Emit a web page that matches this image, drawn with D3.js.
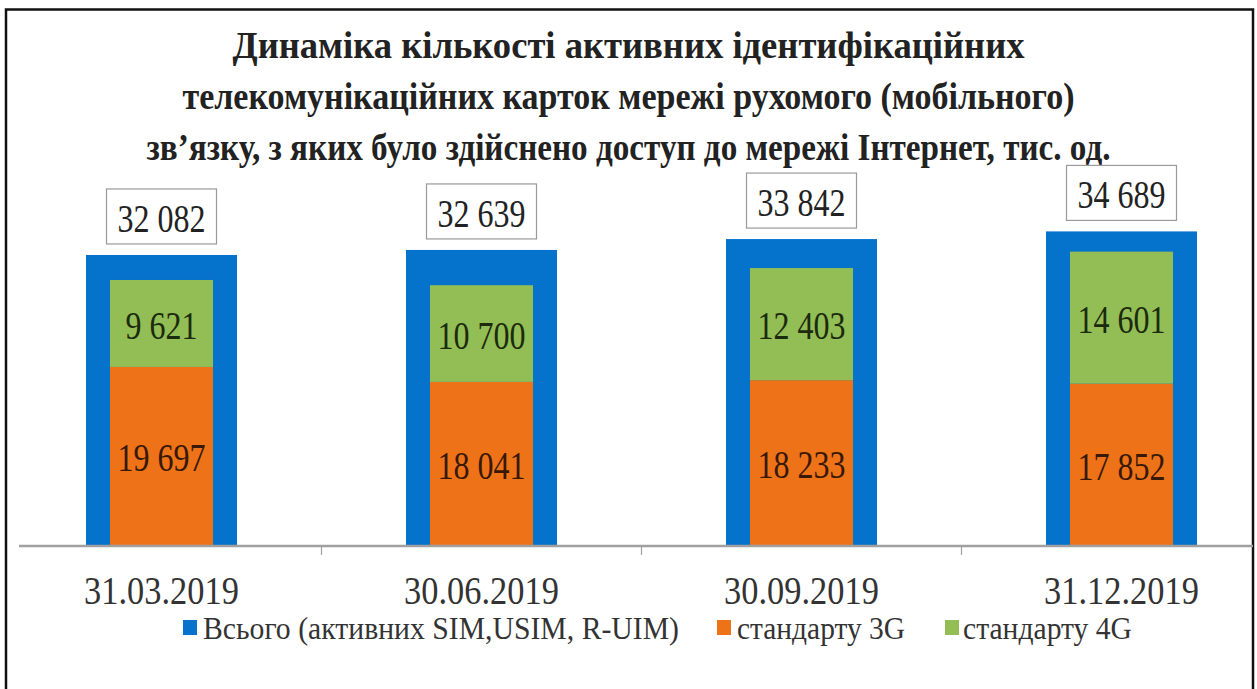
<!DOCTYPE html>
<html>
<head>
<meta charset="utf-8">
<script src="https://cdn.jsdelivr.net/npm/d3@7"></script>
<style>
  html, body { margin: 0; padding: 0; background: #fff; }
  svg { display: block; }
  text { font-family: "Liberation Serif", "Times New Roman", serif; }
</style>
</head>
<body>
<svg id="chart" width="1257" height="689"></svg>
<script>
// Quarter-end dates
const categories = ["31.03.2019", "30.06.2019", "30.09.2019", "31.12.2019"];
// Active SIM/USIM/R-UIM cards with Internet access, thousand units
const totalValues = [32082, 32639, 33842, 34689];
const g3Values = [19697, 18041, 18233, 17852];
const g4Values = [9621, 10700, 12403, 14601];

const titleLines = [
  "Динаміка кількості активних ідентифікаційних",
  "телекомунікаційних карток мережі рухомого (мобільного)",
  "зв’язку, з яких було здійснено доступ до мережі Інтернет, тис. од."
];
const legendLabels = ["Всього (активних SIM,USIM, R-UIM)", "стандарту 3G", "стандарту 4G"];

const colors = { total: "#0572CC", g3: "#EE7318", g4: "#92BE55" };

const svg = d3.select("#chart");
const W = 1257, H = 689;

// Frame around the whole figure
svg.append("rect")
  .attr("x", 6).attr("y", 9.5)
  .attr("width", 1247).attr("height", 700)
  .attr("fill", "none").attr("stroke", "#111").attr("stroke-width", 2.5);

// Title
const titleBase = [58, 109, 160];
const titleWidth = [792, 892, 964];
svg.append("g").selectAll("text")
  .data(titleLines)
  .join("text")
  .attr("x", W / 2)
  .attr("y", (d, i) => titleBase[i])
  .attr("text-anchor", "middle")
  .attr("font-size", 38)
  .attr("font-weight", "bold")
  .attr("fill", "#222")
  .attr("textLength", (d, i) => titleWidth[i])
  .attr("lengthAdjust", "spacingAndGlyphs")
  .text(d => d);

// Scales
const x = d3.scaleBand().domain(categories).range([1.5, 1281.5]).padding(0);
const y = d3.scaleLinear().domain([0, 40000]).range([545, 183.4]);

const fmt = d3.formatLocale({ decimal: ",", thousands: " ", grouping: [3], currency: ["", ""] }).format(",d");

const outerW = x.bandwidth() * 0.472;
const innerW = x.bandwidth() * 0.322;
const cx = d => x(d) + x.bandwidth() / 2;

const rows = categories.map((c, i) => ({ c, total: totalValues[i], g3: g3Values[i], g4: g4Values[i] }));

const plot = svg.append("g");

// Total bars (wide, behind)
plot.selectAll("rect.total")
  .data(rows)
  .join("rect")
  .attr("class", "total")
  .attr("x", d => cx(d.c) - outerW / 2)
  .attr("width", outerW)
  .attr("y", d => y(d.total))
  .attr("height", d => y(0) - y(d.total))
  .attr("fill", colors.total);

// 3G segment
plot.selectAll("rect.g3")
  .data(rows)
  .join("rect")
  .attr("class", "g3")
  .attr("x", d => cx(d.c) - innerW / 2)
  .attr("width", innerW)
  .attr("y", d => y(d.g3))
  .attr("height", d => y(0) - y(d.g3))
  .attr("fill", colors.g3);

// 4G segment stacked on 3G
plot.selectAll("rect.g4")
  .data(rows)
  .join("rect")
  .attr("class", "g4")
  .attr("x", d => cx(d.c) - innerW / 2)
  .attr("width", innerW)
  .attr("y", d => y(d.g3 + d.g4))
  .attr("height", d => y(d.g3) - y(d.g3 + d.g4))
  .attr("fill", colors.g4);

// Condensed number label helper
function numLabel(sel, xf, yf, fill) {
  sel.append("text")
    .attr("transform", d => `translate(${xf(d)},${yf(d)}) scale(0.8,1)`)
    .attr("text-anchor", "middle")
    .attr("dominant-baseline", "central")
    .attr("font-size", 40)
    .attr("fill", fill);
}

// Segment value labels
const g3Lab = plot.selectAll("g.g3lab").data(rows).join("g").attr("class", "g3lab");
numLabel(g3Lab, d => cx(d.c), d => (y(0) + y(d.g3)) / 2 + 2, "#3a1806");
g3Lab.select("text").text(d => fmt(d.g3));

const g4Lab = plot.selectAll("g.g4lab").data(rows).join("g").attr("class", "g4lab");
numLabel(g4Lab, d => cx(d.c), d => (y(d.g3) + y(d.g3 + d.g4)) / 2 + 2, "#1c2a0e");
g4Lab.select("text").text(d => fmt(d.g4));

// Total value callouts in boxes
const boxW = 110, boxH = 55;
const tot = plot.selectAll("g.totlab").data(rows).join("g").attr("class", "totlab");
tot.append("rect")
  .attr("x", d => cx(d.c) - boxW / 2)
  .attr("y", d => y(d.total) - 11 - boxH)
  .attr("width", boxW).attr("height", boxH)
  .attr("fill", "#fff").attr("stroke", "#9a9a9a").attr("stroke-width", 1.2);
numLabel(tot, d => cx(d.c), d => y(d.total) - 11 - boxH / 2 + 2, "#222");
tot.select("text").text(d => fmt(d.total));

// Category axis
const axisG = svg.append("g");
axisG.append("line")
  .attr("x1", 19).attr("x2", 1253)
  .attr("y1", y(0) + 1).attr("y2", y(0) + 1)
  .attr("stroke", "#a0a0a0").attr("stroke-width", 2.5);
axisG.selectAll("line.tick")
  .data(categories.slice(1))
  .join("line")
  .attr("class", "tick")
  .attr("x1", d => x(d)).attr("x2", d => x(d))
  .attr("y1", y(0) + 1).attr("y2", y(0) + 10)
  .attr("stroke", "#a0a0a0").attr("stroke-width", 1.2);
axisG.selectAll("text")
  .data(categories)
  .join("text")
  .attr("transform", d => `translate(${cx(d)},${y(0) + 46}) scale(0.86,1)`)
  .attr("text-anchor", "middle")
  .attr("dominant-baseline", "central")
  .attr("font-size", 40)
  .attr("fill", "#333")
  .text(d => d);

// Legend
const legendItems = [
  { label: legendLabels[0], color: colors.total, sx: 183, tx: 203, tw: 476 },
  { label: legendLabels[1], color: colors.g3, sx: 717, tx: 737, tw: 168 },
  { label: legendLabels[2], color: colors.g4, sx: 945, tx: 963, tw: 169 }
];
const leg = svg.append("g").selectAll("g").data(legendItems).join("g");
leg.append("rect")
  .attr("x", d => d.sx).attr("y", 620)
  .attr("width", 14).attr("height", 15)
  .attr("fill", d => d.color);
leg.append("text")
  .attr("x", d => d.tx).attr("y", 639)
  .attr("font-size", 31)
  .attr("fill", "#333")
  .attr("textLength", d => d.tw)
  .attr("lengthAdjust", "spacingAndGlyphs")
  .text(d => d.label);
</script>
</body>
</html>
